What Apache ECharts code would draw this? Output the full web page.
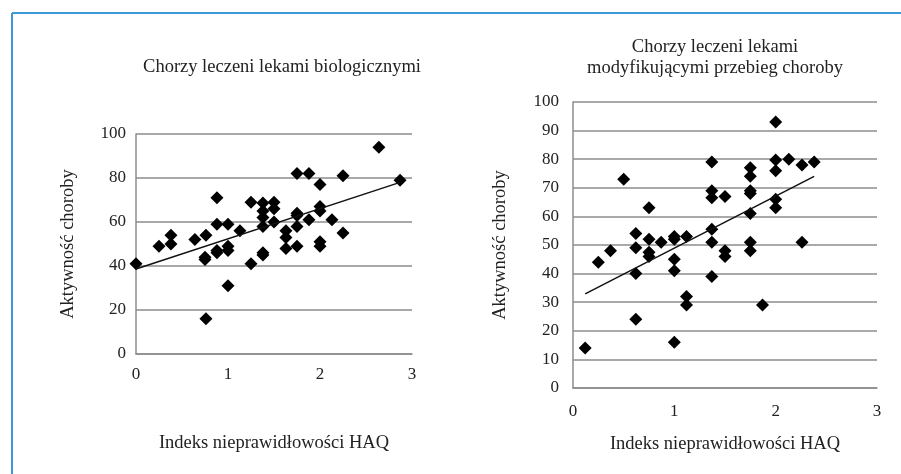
<!DOCTYPE html>
<html><head><meta charset="utf-8">
<script src="https://cdn.jsdelivr.net/npm/echarts@6/dist/echarts.min.js"></script>
<style>html,body{margin:0;padding:0;background:#fff}#c{width:901px;height:474px}</style>
</head><body><div id="c"></div>
<script>
// Left chart: patients treated with biologic drugs
const bioHAQ = [0,0.25,0.38,0.38,0.64,0.76,0.75,0.75,0.76,0.88,0.88,0.88,0.88,1.0,1.0,1.0,1.0,1.13,1.25,1.25,1.38,1.38,1.38,1.38,1.38,1.38,1.5,1.5,1.5,1.63,1.63,1.63,1.75,1.75,1.75,1.75,1.75,1.88,1.88,2.0,2.0,2.0,2.0,2.0,2.13,2.25,2.25,2.64,2.87];
const bioAct = [41,49,54,50,52,54,44,43,16,71,59,47,46,59,49,47,31,56,69,41,68.6,65,62,58,46,45,69,66,60,56,53,48,82,64,63,58,49,82,61,77,67,65,51,49,61,81,55,94,79];
const bioTrendX = [0,2.87];
const bioTrendY = [38.6,78];

// Right chart: patients treated with disease-modifying drugs
const dmHAQ = [0.12,0.25,0.37,0.5,0.62,0.62,0.62,0.62,0.75,0.75,0.75,0.75,0.87,1.0,1.0,1.0,1.0,1.0,1.12,1.12,1.12,1.37,1.37,1.37,1.37,1.37,1.37,1.5,1.5,1.5,1.75,1.75,1.75,1.75,1.75,1.75,1.75,1.87,2.0,2.0,2.0,2.0,2.0,2.13,2.26,2.26,2.38];
const dmAct = [14,44,48,73,54,49,40,24,63,52,47.5,46,51,53,52,45,41,16,53,32,29,79,69,66.5,55.5,51,39,67,48,46,77,74,69,68,61,51,48,29,93,79.7,76,66,63,80,78,51,79];
const dmTrendX = [0.12,2.38];
const dmTrendY = [32.9,74];

const xTicks = [0,1,2,3];
const titleLeft = 'Chorzy leczeni lekami biologicznymi';
const titleRight = 'Chorzy leczeni lekami\nmodyfikującymi przebieg choroby';
const yName = 'Aktywność choroby';
const xName = 'Indeks nieprawidłowości HAQ';

const pairs = (xs, ys) => xs.map((x, i) => [x, ys[i]]);
const FONT = 'Liberation Serif';
const tick = {fontFamily: FONT, fontSize: 17, color: '#222'};
const big = {fontFamily: FONT, fontSize: 18.5, color: '#222'};
const gridLine = {show: true, lineStyle: {color: '#8c8c8c', width: 1.5}};
const axisLine = {show: true, lineStyle: {color: '#8c8c8c', width: 1.5}};

function xAxisCfg(gi, margin, gap) {
  return {type: 'value', gridIndex: gi, min: 0, max: 3, interval: 1,
    axisLine: axisLine, axisTick: {show: false}, splitLine: {show: false},
    axisLabel: Object.assign({margin: margin, formatter: v => xTicks.includes(v) ? String(v) : ''}, tick),
    name: xName, nameLocation: 'middle', nameGap: gap, nameTextStyle: big};
}
function yAxisCfg(gi, interval, margin, gap) {
  return {type: 'value', gridIndex: gi, min: 0, max: 100, interval: interval,
    axisLine: axisLine, axisTick: {show: false}, splitLine: gridLine,
    axisLabel: Object.assign({margin: margin}, tick),
    name: yName, nameLocation: 'middle', nameGap: gap, nameTextStyle: big};
}
const marker = {color: '#000', opacity: 1};

const chart = echarts.init(document.getElementById('c'), null, {renderer: 'canvas'});
chart.setOption({
  animation: false,
  backgroundColor: '#fff',
  title: [
    {text: titleLeft, left: 277, top: 53, textAlign: 'center',
      textStyle: {fontFamily: FONT, fontSize: 18.5, fontWeight: 'normal', color: '#222'}},
    {text: titleRight, left: 710, top: 32, textAlign: 'center',
      textStyle: {fontFamily: FONT, fontSize: 18.5, fontWeight: 'normal', color: '#222', lineHeight: 20.5}}
  ],
  grid: [
    {left: 136, top: 134, width: 276, height: 220},
    {left: 573, top: 102, width: 304, height: 286}
  ],
  xAxis: [xAxisCfg(0, 12, 80), xAxisCfg(1, 15, 47)],
  yAxis: [yAxisCfg(0, 20, 10, 58), yAxisCfg(1, 10, 14, 63)],
  series: [
    {type: 'scatter', xAxisIndex: 0, yAxisIndex: 0, symbol: 'diamond', symbolSize: 13,
      itemStyle: marker, data: pairs(bioHAQ, bioAct), z: 3},
    {type: 'line', xAxisIndex: 0, yAxisIndex: 0, symbol: 'none',
      lineStyle: {color: '#111', width: 1.5}, data: pairs(bioTrendX, bioTrendY), z: 4},
    {type: 'scatter', xAxisIndex: 1, yAxisIndex: 1, symbol: 'diamond', symbolSize: 13,
      itemStyle: marker, data: pairs(dmHAQ, dmAct), z: 3},
    {type: 'line', xAxisIndex: 1, yAxisIndex: 1, symbol: 'none',
      lineStyle: {color: '#111', width: 1.5}, data: pairs(dmTrendX, dmTrendY), z: 4}
  ],
  graphic: [
    {type: 'line', shape: {x1: 12, y1: 13, x2: 901, y2: 13}, style: {stroke: '#3d9ad6', lineWidth: 2}},
    {type: 'line', shape: {x1: 12, y1: 13, x2: 12, y2: 474}, style: {stroke: '#3d9ad6', lineWidth: 2}}
  ]
});
</script></body></html>
